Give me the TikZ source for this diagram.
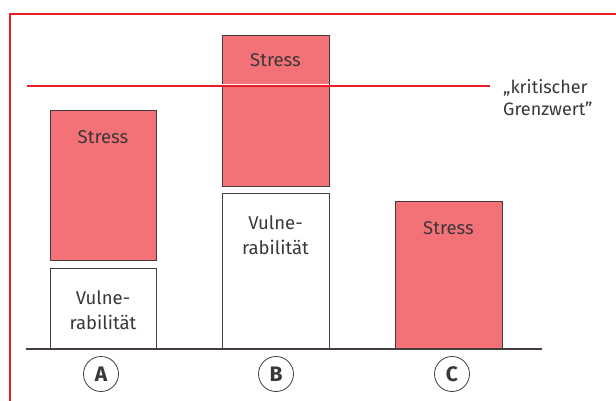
\documentclass[tikz,border=0pt]{standalone}
\usepackage{fontspec}
\setmainfont{Fira Sans}
\definecolor{stressfill}{RGB}{243,114,120}
\definecolor{framered}{RGB}{235,30,40}
\definecolor{txtgray}{RGB}{60,55,55}
\definecolor{edgegray}{RGB}{70,60,60}
\begin{document}
\begin{tikzpicture}[x=1pt,y=-1pt,
  box/.style={draw=edgegray,line width=0.8pt,inner sep=0pt},
  stressbox/.style={box,fill=stressfill},
  vulnbox/.style={box,fill=white},
  lab/.style={text=txtgray,font=\fontsize{18.5}{24.5}\selectfont,align=center,inner sep=0pt},
  circ/.style={draw=edgegray,circle,line width=0.8pt,minimum size=35pt,inner sep=0pt,text=txtgray,font=\bfseries\fontsize{21}{22}\selectfont}]
\useasboundingbox (0,0) rectangle (616,401);
\fill[white] (0,0) rectangle (616,401);
% frame
\draw[framered,line width=1.8pt] (10,405) -- (10,14) -- (620,14);
% boxes
\draw[stressbox] (50,110) rectangle (156,260);
\draw[vulnbox] (50,268) rectangle (156,349);
\draw[stressbox] (222,35) rectangle (329,186);
\draw[vulnbox] (222,193) rectangle (329,349);
\draw[stressbox] (395,201) rectangle (502,349);
% labels
\node[lab] (sA) at (103,137) {Stress};
\node[lab] (vA) at (103,310) {Vulne-\\rabilität};
\node[lab] (sB) at (275.5,60) {Stress};
\node[lab] (vB) at (275.5,235) {Vulne-\\rabilität};
\node[lab] (sC) at (448.5,228) {Stress};
% critical line
\coordinate (cl1) at (27,86);
\coordinate (cl2) at (490,86);
\draw[white,line width=3pt] (222,86) -- (329,86);
\draw[draw=framered,line width=1.4pt] (cl1) -- (cl2);
\node[lab,align=left,anchor=west,font=\fontsize{18}{22}\selectfont] (kg) at (503,98) {„kritischer\\Grenzwert”};
% baseline
\coordinate (bl1) at (26,349);
\coordinate (bl2) at (542,349);
\draw[edgegray,line width=1.2pt] (bl1) -- (bl2);
% circles
\node[circ] (A) at (101,374) {A};
\node[circ] (B) at (276,374) {B};
\node[circ] (C) at (452,374) {C};
\end{tikzpicture}
\end{document}
